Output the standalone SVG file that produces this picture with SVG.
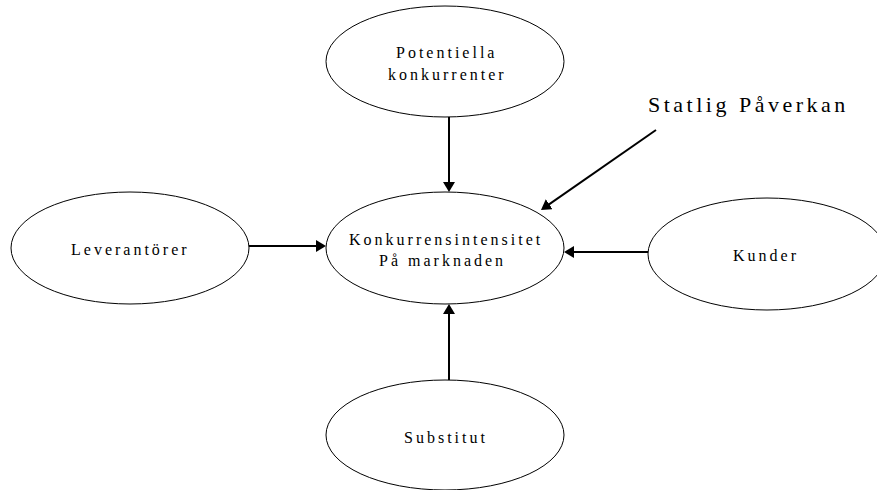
<svg xmlns="http://www.w3.org/2000/svg" width="877" height="490" viewBox="0 0 877 490">
<style>
  .node ellipse { fill: #ffffff; stroke: #000000; stroke-width: 1; }
  .node text, .label { font-family: "Liberation Serif", "Times New Roman", serif; fill: #000000; }
  .node text { font-size: 16px; letter-spacing: 3px; }
  .label { font-size: 22px; letter-spacing: 3.5px; }
  .conn line { stroke: #000000; stroke-width: 2; }
</style>
<defs>
  <marker id="arrow" viewBox="0 0 10 12" markerWidth="10" markerHeight="12" refX="5" refY="6" orient="auto" markerUnits="userSpaceOnUse">
    <path d="M0,0 L10,6 L0,12 Z" fill="#000000"/>
  </marker>
</defs>
<rect width="877" height="490" fill="#ffffff"/>

<g id="n-potentiella" class="node">
  <ellipse cx="445" cy="61.5" rx="119" ry="55.5"/>
  <text x="396" y="58">Potentiella</text>
  <text x="388" y="80">konkurrenter</text>
</g>
<g id="n-center" class="node">
  <ellipse cx="445" cy="248" rx="119" ry="56"/>
  <text x="349" y="245">Konkurrensintensitet</text>
  <text x="379" y="266">På marknaden</text>
</g>
<g id="n-leverantorer" class="node">
  <ellipse cx="130" cy="248" rx="119" ry="56"/>
  <text x="71" y="255">Leverantörer</text>
</g>
<g id="n-kunder" class="node">
  <ellipse cx="767" cy="254" rx="119" ry="56"/>
  <text x="733" y="261">Kunder</text>
</g>
<g id="n-substitut" class="node">
  <ellipse cx="445" cy="435" rx="119" ry="55"/>
  <text x="404" y="443">Substitut</text>
</g>
<g id="n-statlig">
  <text class="label" x="648" y="112">Statlig Påverkan</text>
</g>

<g id="connectors" class="conn">
  <line x1="449" y1="117" x2="449" y2="187" marker-end="url(#arrow)"/>
  <line x1="249" y1="246" x2="321" y2="246" marker-end="url(#arrow)"/>
  <line x1="648" y1="252" x2="569" y2="252" marker-end="url(#arrow)"/>
  <line x1="449" y1="380" x2="449" y2="309" marker-end="url(#arrow)"/>
  <line x1="656" y1="130" x2="545.1" y2="207.1" marker-end="url(#arrow)"/>
</g>
</svg>
